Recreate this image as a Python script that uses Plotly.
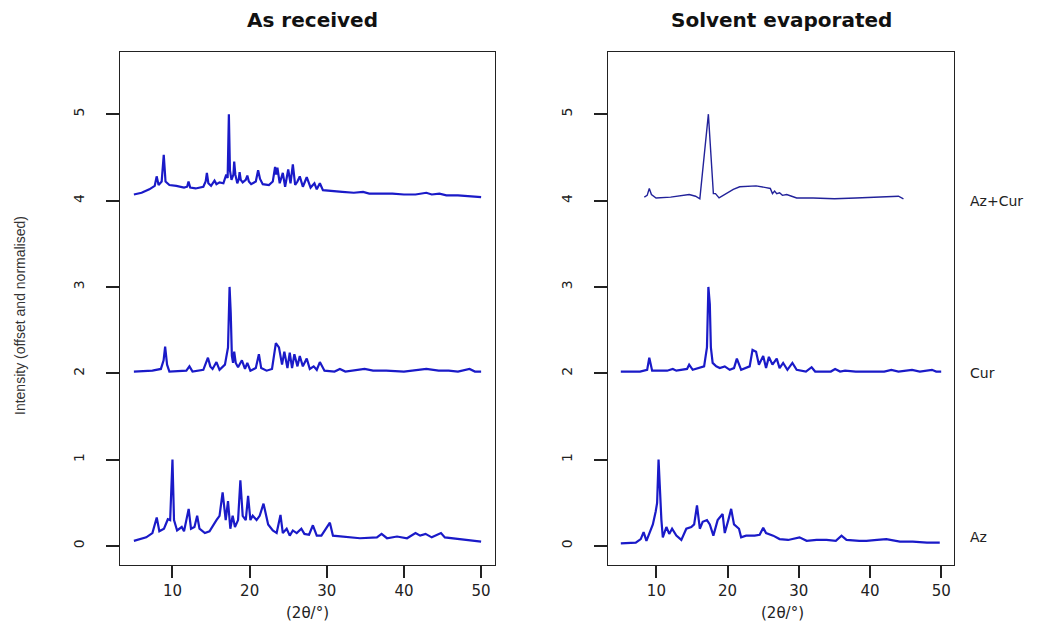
import plotly.graph_objects as go

# ---- data (2theta in degrees, normalised intensity) ----
offsets = [0, 2, 4]
sample_labels = ["Az", "Cur", "Az+Cur"]
panel_titles = ["As received", "Solvent evaporated"]
x_ticks = [10, 20, 30, 40, 50]
y_ticks = [0, 1, 2, 3, 4, 5]

# As received
ar_az = [(5, 0.06), (6.6, 0.1), (7.4, 0.15), (7.96, 0.33), (8.3, 0.17), (8.9, 0.2), (9.4, 0.31), (9.7, 0.3),
         (10.0, 1.0), (10.2, 0.3), (10.6, 0.18), (11.2, 0.22), (11.5, 0.17), (12.1, 0.43), (12.4, 0.2),
         (12.85, 0.22), (13.2, 0.35), (13.5, 0.2), (14.2, 0.15), (14.8, 0.17), (15.7, 0.3), (16.1, 0.35),
         (16.5, 0.62), (16.9, 0.3), (17.2, 0.52), (17.5, 0.2), (17.8, 0.35), (18.1, 0.22), (18.5, 0.3),
         (18.8, 0.76), (19.1, 0.35), (19.5, 0.3), (19.8, 0.58), (20.1, 0.3), (20.4, 0.35), (20.9, 0.3),
         (21.3, 0.35), (21.8, 0.49), (22.4, 0.25), (23.0, 0.18), (23.5, 0.15), (24.0, 0.36), (24.3, 0.15),
         (24.8, 0.2), (25.2, 0.12), (25.6, 0.18), (26.1, 0.15), (26.7, 0.2), (27.1, 0.14), (27.7, 0.13),
         (28.2, 0.24), (28.7, 0.12), (29.3, 0.12), (30.4, 0.27), (30.8, 0.12), (32.6, 0.1), (34.3, 0.09),
         (36.5, 0.1), (37.1, 0.14), (37.8, 0.09), (39.1, 0.11), (40.4, 0.09), (41.5, 0.15), (42.1, 0.12),
         (42.8, 0.14), (43.6, 0.1), (44.8, 0.15), (45.3, 0.1), (47.3, 0.08), (50, 0.05)]
ar_cur = [(5, 0.02), (7.4, 0.03), (8.5, 0.05), (8.85, 0.15), (9.05, 0.31), (9.3, 0.1), (9.6, 0.02),
          (11.8, 0.03), (12.2, 0.08), (12.6, 0.02), (14, 0.04), (14.35, 0.12), (14.6, 0.18), (14.9, 0.08),
          (15.2, 0.05), (15.7, 0.13), (16.1, 0.04), (16.8, 0.1), (17.2, 0.3), (17.4, 1.0), (17.55, 0.7),
          (17.7, 0.2), (17.85, 0.12), (18.0, 0.25), (18.2, 0.12), (18.5, 0.07), (19.0, 0.15), (19.4, 0.05),
          (19.7, 0.12), (20.1, 0.03), (20.8, 0.06), (21.2, 0.22), (21.5, 0.06), (22.2, 0.03), (22.9, 0.05),
          (23.4, 0.35), (23.8, 0.3), (24.2, 0.1), (24.5, 0.25), (24.9, 0.06), (25.2, 0.24), (25.5, 0.06),
          (25.8, 0.22), (26.2, 0.08), (26.5, 0.2), (26.9, 0.08), (27.4, 0.17), (27.8, 0.05), (28.3, 0.08),
          (28.7, 0.04), (29.1, 0.13), (29.7, 0.03), (31.0, 0.02), (31.7, 0.05), (32.4, 0.02), (34.9, 0.05),
          (36.0, 0.03), (37.7, 0.03), (40, 0.02), (42.9, 0.05), (44.5, 0.03), (45.8, 0.03), (47, 0.02),
          (48.5, 0.05), (49.2, 0.02), (50, 0.02)]
ar_azcur = [(5, 0.07), (6, 0.09), (7, 0.13), (7.7, 0.17), (7.95, 0.28), (8.2, 0.18), (8.6, 0.22), (8.87, 0.53),
            (9.1, 0.22), (9.6, 0.18), (10.5, 0.17), (11.5, 0.15), (11.9, 0.16), (12.08, 0.22), (12.3, 0.15),
            (13, 0.14), (14, 0.16), (14.3, 0.22), (14.46, 0.32), (14.65, 0.2), (15.0, 0.17), (15.45, 0.23),
            (15.7, 0.19), (16.1, 0.21), (16.6, 0.2), (16.97, 0.3), (17.15, 0.26), (17.31, 1.0), (17.45, 0.35),
            (17.65, 0.24), (17.9, 0.3), (18.0, 0.45), (18.15, 0.3), (18.4, 0.2), (18.6, 0.25), (18.7, 0.33),
            (18.85, 0.24), (19.1, 0.21), (19.5, 0.24), (19.7, 0.29), (19.9, 0.22), (20.2, 0.19), (20.8, 0.22),
            (21.1, 0.35), (21.35, 0.25), (21.7, 0.19), (22.5, 0.18), (23.0, 0.22), (23.3, 0.39), (23.45, 0.3),
            (23.6, 0.38), (23.9, 0.2), (24.3, 0.32), (24.6, 0.16), (25.0, 0.36), (25.3, 0.2), (25.6, 0.42),
            (25.9, 0.18), (26.2, 0.22), (26.5, 0.28), (26.9, 0.16), (27.4, 0.27), (27.9, 0.15), (28.4, 0.2),
            (28.7, 0.13), (29.1, 0.2), (29.5, 0.12), (30.5, 0.11), (32, 0.1), (33.5, 0.09), (34.7, 0.1),
            (35.5, 0.08), (37, 0.08), (38.5, 0.08), (40, 0.07), (41.5, 0.07), (42.9, 0.09), (43.6, 0.07),
            (44.6, 0.08), (45.5, 0.06), (47, 0.06), (48.5, 0.05), (50, 0.04)]

# Solvent evaporated
se_az = [(5, 0.03), (7.1, 0.04), (7.8, 0.08), (8.2, 0.16), (8.6, 0.06), (9.5, 0.25), (9.9, 0.4), (10.1, 0.5),
         (10.3, 1.0), (10.5, 0.6), (10.7, 0.3), (10.9, 0.1), (11.4, 0.22), (11.8, 0.14), (12.2, 0.2),
         (12.8, 0.12), (13.5, 0.07), (14.2, 0.2), (14.9, 0.22), (15.3, 0.25), (15.7, 0.47), (16.1, 0.2),
         (16.5, 0.28), (17.1, 0.3), (17.5, 0.25), (18.0, 0.12), (18.6, 0.3), (19.3, 0.37), (19.6, 0.15),
         (20.1, 0.3), (20.5, 0.43), (20.9, 0.25), (21.6, 0.2), (21.9, 0.1), (22.6, 0.12), (23.8, 0.12),
         (24.5, 0.13), (25.0, 0.21), (25.4, 0.15), (26.4, 0.12), (27.3, 0.08), (28.5, 0.07), (30.1, 0.1),
         (31.1, 0.06), (32.5, 0.07), (33.9, 0.07), (35.2, 0.06), (36.0, 0.12), (36.7, 0.07), (38.5, 0.06),
         (39.5, 0.06), (41, 0.07), (42.3, 0.08), (44.2, 0.05), (46, 0.05), (48, 0.04), (49.8, 0.04)]
se_cur = [(5, 0.02), (7.7, 0.02), (8.7, 0.04), (9.0, 0.18), (9.4, 0.03), (11.5, 0.03), (12.3, 0.05),
          (12.8, 0.03), (14.3, 0.05), (14.6, 0.1), (15.1, 0.04), (16.0, 0.06), (16.7, 0.08), (17.1, 0.3),
          (17.3, 1.0), (17.5, 0.8), (17.65, 0.3), (17.9, 0.12), (18.4, 0.08), (18.9, 0.06), (19.6, 0.08),
          (20.3, 0.04), (20.9, 0.06), (21.3, 0.17), (21.9, 0.04), (23.1, 0.08), (23.5, 0.27), (24.0, 0.25),
          (24.4, 0.1), (25.0, 0.2), (25.4, 0.06), (25.8, 0.19), (26.3, 0.1), (26.9, 0.17), (27.3, 0.06),
          (27.8, 0.12), (28.4, 0.04), (29.1, 0.12), (29.7, 0.04), (31.0, 0.02), (31.8, 0.07), (32.3, 0.02),
          (34.5, 0.02), (35.1, 0.05), (35.8, 0.02), (36.5, 0.03), (38, 0.02), (40.0, 0.02), (42, 0.02),
          (43.0, 0.04), (44, 0.02), (45.9, 0.04), (47, 0.02), (48.7, 0.04), (49.3, 0.02), (50, 0.02)]
se_azcur = [(8.3, 0.04), (8.7, 0.06), (9.0, 0.14), (9.3, 0.07), (9.95, 0.03), (12, 0.04), (14.6, 0.07),
            (15.5, 0.05), (16.1, 0.02), (17.3, 1.0), (18.0, 0.08), (18.3, 0.08), (18.8, 0.03), (19.8, 0.08),
            (20.8, 0.13), (21.7, 0.16), (23.0, 0.17), (24.0, 0.17), (25.4, 0.15), (26.0, 0.14), (26.3, 0.08),
            (26.6, 0.11), (26.9, 0.08), (27.3, 0.09), (27.7, 0.06), (28.3, 0.07), (29.0, 0.05), (29.7, 0.03),
            (32, 0.03), (35, 0.02), (38, 0.03), (41, 0.04), (43, 0.05), (44, 0.05), (44.7, 0.02)]

panels = [[ar_az, ar_cur, ar_azcur], [se_az, se_cur, se_azcur]]

W, H = 1037, 625
BLUE = "#1a1ac8"
fig = go.Figure()

for p, series_list in enumerate(panels):
    ax = "" if p == 0 else str(p + 1)
    for s, series in enumerate(series_list):
        xs = [pt[0] for pt in series]
        ys = [pt[1] + offsets[s] for pt in series]
        thin = (p == 1 and s == 2)
        fig.add_trace(go.Scatter(
            x=xs, y=ys, mode="lines",
            line=dict(color="#22229a" if thin else BLUE, width=1.4 if thin else 2.2),
            xaxis="x" + ax, yaxis="y" + ax, showlegend=False, hoverinfo="skip"))

ydom = [1 - 565 / H, 1 - 52 / H]
xdoms = [[120 / W, 495 / W], [608 / W, 954 / W]]
tickfont = dict(family="DejaVu Sans", size=15, color="#222")
for p in range(2):
    suffix = "" if p == 0 else str(p + 1)
    fig.update_layout(**{
        "xaxis" + suffix: dict(
            domain=xdoms[p], range=[3.2, 51.8], anchor="y" + suffix,
            tickmode="array", tickvals=x_ticks, ticks="outside", ticklen=12, tickwidth=1.5,
            tickcolor="#222", showline=True, linecolor="#222", linewidth=1.2, mirror=True,
            showgrid=False, zeroline=False, tickfont=tickfont),
        "yaxis" + suffix: dict(
            domain=ydom, range=[-0.22, 5.72], anchor="x" + suffix,
            tickmode="array", tickvals=y_ticks, ticks="outside", ticklen=13, tickwidth=1.5,
            tickcolor="#222", showline=True, linecolor="#222", linewidth=1.2, mirror=True,
            showgrid=False, zeroline=False, tickangle=-90, ticklabelstandoff=16,
            tickfont=dict(family="DejaVu Sans", size=14, color="#222")),
    })

annotations = []
title_x = [312 / W, 781 / W]
xlab_x = [307 / W, 782 / W]
for p in range(2):
    annotations.append(dict(text="<b>" + panel_titles[p] + "</b>", x=title_x[p], y=1 - 20 / H,
                            xref="paper", yref="paper", xanchor="center", yanchor="middle",
                            showarrow=False, font=dict(family="DejaVu Sans", size=20, color="#111")))
    annotations.append(dict(text="(2θ/°)", x=xlab_x[p], y=1 - 613 / H,
                            xref="paper", yref="paper", xanchor="center", yanchor="middle",
                            showarrow=False, font=dict(family="DejaVu Sans", size=15, color="#222")))
label_y = [0.1, 2.0, 4.0]
for s in range(3):
    annotations.append(dict(text=sample_labels[s], x=968 / W, y=label_y[s], xref="paper", yref="y2",
                            xanchor="left", yanchor="middle", showarrow=False,
                            font=dict(family="DejaVu Sans", size=14, color="#222")))
annotations.append(dict(text="Intensity (offset and normalised)", x=20 / W, y=1 - 316 / H,
                        xref="paper", yref="paper", xanchor="center", yanchor="middle",
                        textangle=-90, showarrow=False,
                        font=dict(family="Liberation Sans Narrow, Liberation Sans, sans-serif",
                                  size=14, color="#333")))

fig.update_layout(width=W, height=H, margin=dict(l=0, r=0, t=0, b=0),
                  paper_bgcolor="white", plot_bgcolor="white", annotations=annotations)

fig.write_html("out.html")
